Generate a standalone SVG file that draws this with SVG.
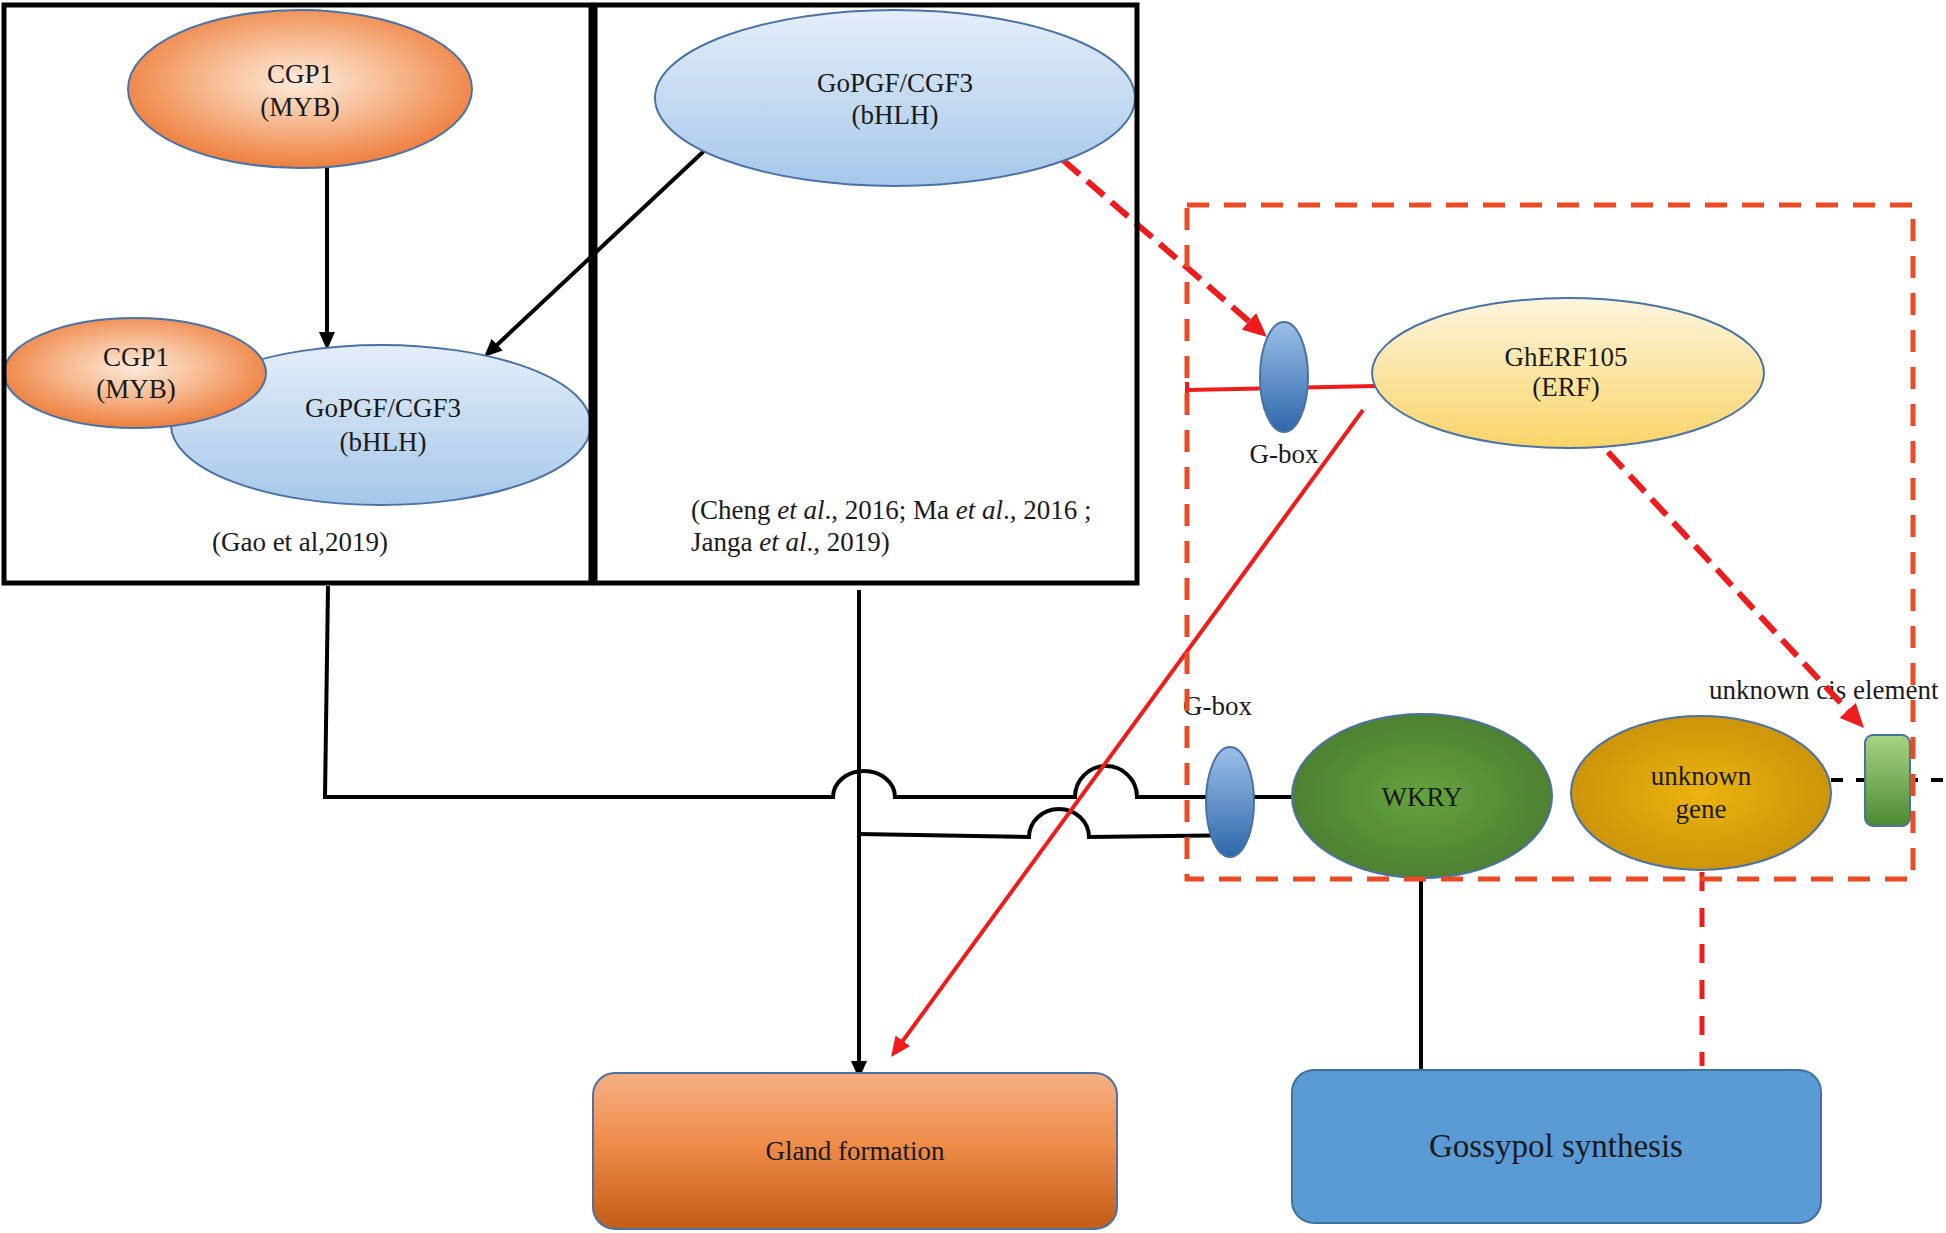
<svg xmlns="http://www.w3.org/2000/svg" width="1946" height="1233" viewBox="0 0 1946 1233">
<defs>
  <radialGradient id="gOrange" cx="50%" cy="45%" r="55%">
    <stop offset="0" stop-color="#fdebdc"/>
    <stop offset="0.45" stop-color="#f7bd96"/>
    <stop offset="1" stop-color="#ee7f3e"/>
  </radialGradient>
  <linearGradient id="gBlue" x1="0" y1="0" x2="0" y2="1">
    <stop offset="0" stop-color="#e4eef9"/>
    <stop offset="1" stop-color="#a6c7ea"/>
  </linearGradient>
  <linearGradient id="gYellow" x1="0" y1="0" x2="0" y2="1">
    <stop offset="0" stop-color="#fdf5de"/>
    <stop offset="1" stop-color="#f9d468"/>
  </linearGradient>
  <linearGradient id="gGbox" x1="0" y1="0" x2="0" y2="1">
    <stop offset="0" stop-color="#9cc0e7"/>
    <stop offset="1" stop-color="#2d67ab"/>
  </linearGradient>
  <radialGradient id="gGreen" cx="50%" cy="50%" r="55%">
    <stop offset="0" stop-color="#65a33f"/>
    <stop offset="1" stop-color="#4a7e2f"/>
  </radialGradient>
  <radialGradient id="gGold" cx="50%" cy="50%" r="55%">
    <stop offset="0" stop-color="#ebb40e"/>
    <stop offset="1" stop-color="#c99108"/>
  </radialGradient>
  <linearGradient id="gCis" x1="0" y1="0" x2="0" y2="1">
    <stop offset="0" stop-color="#a9d383"/>
    <stop offset="1" stop-color="#4b8a32"/>
  </linearGradient>
  <linearGradient id="gGland" x1="0" y1="0" x2="0" y2="1">
    <stop offset="0" stop-color="#f5b084"/>
    <stop offset="0.45" stop-color="#ef8c4a"/>
    <stop offset="1" stop-color="#c25d16"/>
  </linearGradient>
  <marker id="arrK" viewBox="0 0 18 16" refX="8" refY="8" markerWidth="18" markerHeight="16" markerUnits="userSpaceOnUse" orient="auto">
    <path d="M0,0 L18,8 L0,16 z" fill="#000"/>
  </marker>
  <marker id="arrR" viewBox="0 0 20 18" refX="8" refY="9" markerWidth="20" markerHeight="18" markerUnits="userSpaceOnUse" orient="auto">
    <path d="M0,0 L20,9 L0,18 z" fill="#f01c1c"/>
  </marker>
  <marker id="arrRD" viewBox="0 0 24 22" refX="8" refY="11" markerWidth="24" markerHeight="22" markerUnits="userSpaceOnUse" orient="auto">
    <path d="M0,0 L24,11 L0,22 z" fill="#ee1c1c"/>
  </marker>
</defs>
<style>
  text { font-family: "Liberation Serif", "Times New Roman", serif; fill: #1a1a1a; font-size: 27px; }
  .c { text-anchor: middle; }
  .it { font-style: italic; }
  .node { stroke: #4a72a6; stroke-width: 2; }
  .frame { fill: none; stroke: #000; stroke-width: 5; }
  .region { fill: none; stroke: #ea4a24; stroke-width: 5; stroke-dasharray: 22 15; }
  .blk { fill: none; stroke: #000; stroke-width: 4; }
  .red { fill: none; stroke: #f01c1c; stroke-width: 4; }
  .redDash { fill: none; stroke: #ee1c1c; stroke-width: 6; stroke-dasharray: 22 10; }
  .redDashV { fill: none; stroke: #ee1c1c; stroke-width: 5; stroke-dasharray: 19 17; }
  .blkDash { fill: none; stroke: #000; stroke-width: 4; stroke-dasharray: 12 13; }
</style>
<rect x="0" y="0" width="1946" height="1233" fill="#ffffff"/>

<g id="labels">
  <text class="c" x="300" y="551">(Gao et al,2019)</text>
  <text x="691" y="519">(Cheng <tspan class="it">et al</tspan>., 2016; Ma <tspan class="it">et al</tspan>., 2016 ;</text>
  <text x="691" y="551">Janga <tspan class="it">et al</tspan>., 2019)</text>
  <text class="c" x="1284" y="463">G-box</text>
  <text x="1183" y="715">G-box</text>
  <text x="1709" y="699">unknown cis element</text>
</g>

<g id="connectors">
  <line class="blk" x1="327" y1="168" x2="327" y2="340" marker-end="url(#arrK)"/>
  <line class="blk" x1="704" y1="151" x2="491.3" y2="350.2" marker-end="url(#arrK)"/>
  <line class="blk" x1="859" y1="590" x2="859" y2="1069" marker-end="url(#arrK)"/>
  <path class="blk" d="M328,586 L325,797 L833,797 A31,26 0 0 1 895,797 L1075,797 A31,31 0 0 1 1137,797 L1292,797"/>
  <path class="blk" d="M859,834 L1029,837 A30,28 0 0 1 1089,837 L1250,835"/>
  <line class="blk" x1="1421" y1="876" x2="1421" y2="1071"/>
  <line class="blkDash" x1="1831" y1="780" x2="1946" y2="780"/>
  <line class="red" x1="1187" y1="390" x2="1375" y2="386" stroke-width="4.5"/>
  <line class="red" x1="1187" y1="382" x2="1187" y2="398"/>
  <line class="red" x1="1363" y1="410" x2="898.1" y2="1047.3" marker-end="url(#arrR)"/>
  <line class="redDash" x1="1063" y1="160" x2="1254.9" y2="326.5" marker-end="url(#arrRD)"/>
  <line class="redDash" x1="1608" y1="452" x2="1853.1" y2="716.3" marker-end="url(#arrRD)"/>
  <line class="redDashV" x1="1702" y1="872" x2="1702" y2="1066"/>
</g>

<g id="node-cgp1-top">
  <ellipse class="node" cx="300" cy="89" rx="172" ry="79" fill="url(#gOrange)"/>
  <text class="c" x="300" y="83">CGP1</text>
  <text class="c" x="300" y="116">(MYB)</text>
</g>
<g id="node-complex-bhlh">
  <ellipse class="node" cx="381" cy="425" rx="210" ry="80" fill="url(#gBlue)"/>
  <text class="c" x="383" y="417">GoPGF/CGF3</text>
  <text class="c" x="383" y="451">(bHLH)</text>
</g>
<g id="node-complex-cgp1">
  <ellipse class="node" cx="135" cy="373" rx="131" ry="55" fill="url(#gOrange)"/>
  <text class="c" x="136" y="366">CGP1</text>
  <text class="c" x="136" y="398">(MYB)</text>
</g>
<g id="node-bhlh-top">
  <ellipse class="node" cx="895" cy="98" rx="240" ry="88" fill="url(#gBlue)"/>
  <text class="c" x="895" y="92">GoPGF/CGF3</text>
  <text class="c" x="895" y="124">(bHLH)</text>
</g>
<g id="node-gbox-top">
  <ellipse class="node" cx="1284" cy="377" rx="24" ry="55" fill="url(#gGbox)" stroke="#3a5f94"/>
</g>
<g id="node-gherf105">
  <ellipse class="node" cx="1568" cy="373" rx="196" ry="75" fill="url(#gYellow)" stroke="#4a5d94"/>
  <text class="c" x="1566" y="366">GhERF105</text>
  <text class="c" x="1566" y="396">(ERF)</text>
</g>
<g id="node-gbox-bottom">
  <ellipse class="node" cx="1230" cy="802" rx="24" ry="55" fill="url(#gGbox)" stroke="#3a5f94"/>
</g>
<g id="node-wkry">
  <ellipse class="node" cx="1422" cy="796" rx="130" ry="82" fill="url(#gGreen)"/>
  <text class="c" x="1422" y="806" fill="#17260c">WKRY</text>
</g>
<g id="node-unknown-gene">
  <ellipse class="node" cx="1701" cy="793" rx="130" ry="77" fill="url(#gGold)"/>
  <text class="c" x="1701" y="785" fill="#2a1a00">unknown</text>
  <text class="c" x="1701" y="818" fill="#2a1a00">gene</text>
</g>
<g id="node-cis-element">
  <rect class="node" x="1865" y="735" width="45" height="91" rx="8" fill="url(#gCis)"/>
</g>
<g id="node-gland">
  <rect class="node" x="593" y="1073" width="524" height="156" rx="22" fill="url(#gGland)"/>
  <text class="c" x="855" y="1160" fill="#2a1408">Gland formation</text>
</g>
<g id="node-gossypol">
  <rect x="1292" y="1070" width="529" height="153" rx="22" fill="#5b9bd5" stroke="#41719c" stroke-width="2"/>
  <text class="c" x="1556" y="1157" fill="#0e1a33" style="font-size:33px">Gossypol synthesis</text>
</g>

<g id="frames">
  <rect class="frame" x="4" y="5" width="587" height="578"/>
  <rect class="frame" x="595" y="5" width="542" height="578"/>
  <rect class="region" x="1187" y="205" width="726" height="674"/>
</g>
</svg>
